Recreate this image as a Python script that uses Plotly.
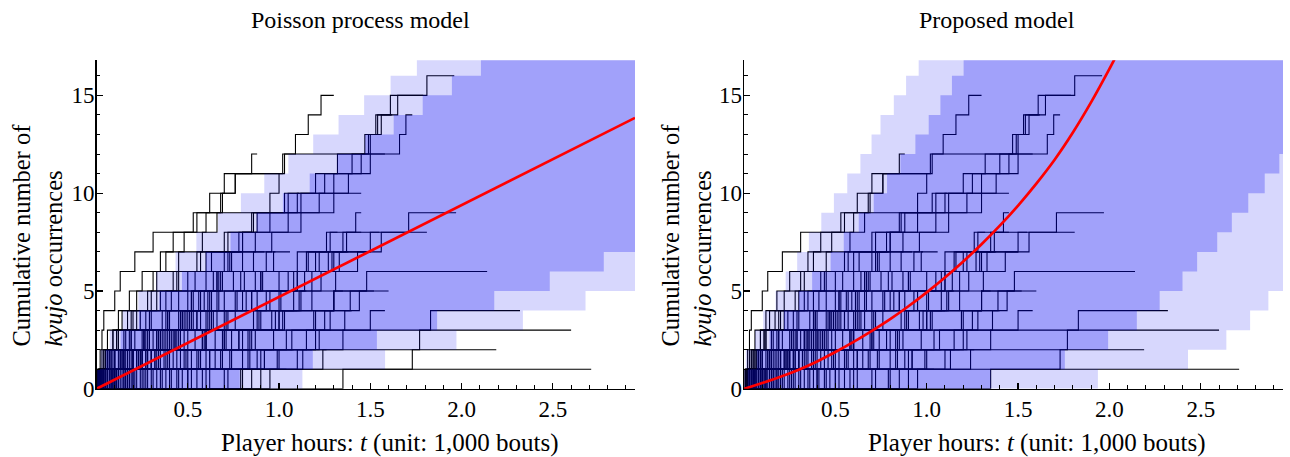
import plotly.graph_objects as go

# ---------------- data ----------------
# each player: times (1,000 bouts) at which the cumulative count rises by one, and the player's total exposure
player_events = [
    # short careers
    [0.01], [0.02], [0.005, 0.03], [0.01, 0.04], [0.02, 0.06, 0.09], [0.015], [0.03, 0.07], [0.04],
    [0.02, 0.05, 0.11], [0.06, 0.14], [0.01, 0.08, 0.12, 0.17], [0.05, 0.16], [0.09], [0.03, 0.1, 0.19],
    [0.07, 0.13, 0.21], [0.12, 0.2], [0.04, 0.15, 0.25], [0.08, 0.18, 0.26, 0.3], [0.11, 0.23],
    [0.02, 0.14, 0.28], [0.17, 0.24, 0.33], [0.06, 0.19, 0.29, 0.36], [0.1, 0.22, 0.38], [0.13, 0.27],
    [0.05, 0.2, 0.31, 0.4, 0.45], [0.16, 0.3, 0.43], [0.09, 0.25, 0.34, 0.47], [0.21, 0.35],
    [0.03, 0.12, 0.26, 0.39, 0.5], [0.18, 0.32, 0.44, 0.53],
    # medium careers
    [0.07, 0.2, 0.36, 0.48, 0.57], [0.11, 0.28, 0.41, 0.55], [0.04, 0.15, 0.33, 0.46, 0.52, 0.6],
    [0.24, 0.39, 0.58], [0.14, 0.3, 0.42, 0.5, 0.61], [0.09, 0.23, 0.37, 0.49, 0.62, 0.66],
    [0.19, 0.34, 0.54, 0.64], [0.06, 0.17, 0.29, 0.45, 0.56, 0.67], [0.27, 0.44, 0.6, 0.7],
    [0.12, 0.25, 0.4, 0.51, 0.63, 0.69, 0.72], [0.31, 0.49, 0.65], [0.08, 0.22, 0.35, 0.47, 0.59, 0.68, 0.74],
    [0.36, 0.52, 0.71], [0.16, 0.32, 0.43, 0.57, 0.66, 0.75], [0.41, 0.62, 0.78],
    [0.05, 0.13, 0.26, 0.38, 0.53, 0.64, 0.73, 0.8], [0.45, 0.69], [0.2, 0.37, 0.5, 0.61, 0.76, 0.81],
    [0.52, 0.74, 0.84], [0.1, 0.24, 0.39, 0.55, 0.67, 0.79, 0.86], [0.58, 0.83],
    [0.28, 0.46, 0.6, 0.72, 0.85, 0.9], [0.62, 0.88], [0.15, 0.33, 0.48, 0.63, 0.77, 0.87, 0.93],
    [0.7, 0.92], [0.35, 0.56, 0.74, 0.89, 0.95], [0.79], [0.22, 0.42, 0.58, 0.71, 0.82, 0.91, 0.97],
    [0.85, 0.99], [0.47, 0.68, 0.87, 1.0],
    # longer careers
    [0.3, 0.55, 0.8, 1.02, 1.12], [0.9, 1.1], [0.25, 0.5, 0.7, 0.88, 1.0, 1.1, 1.15], [0.95, 1.24],
    [0.4, 0.65, 0.83, 0.98, 1.08, 1.18, 1.22], [0.6, 0.92, 1.15, 1.25],
    [0.18, 0.38, 0.59, 0.76, 0.93, 1.05, 1.16, 1.26], [0.5, 0.8, 1.04, 1.2, 1.3],
    [0.33, 0.57, 0.78, 0.96, 1.11, 1.23, 1.33], [0.72, 1.0, 1.22, 1.36],
    [0.26, 0.48, 0.69, 0.86, 1.01, 1.14, 1.27, 1.37, 1.42], [0.44, 0.73, 0.97, 1.19, 1.39],
    [0.55, 0.84, 1.07, 1.28, 1.44], [0.38, 0.62, 0.85, 1.03, 1.18, 1.31, 1.43, 1.5], [0.8, 1.13, 1.35, 1.5],
    # prominent players
    [0.01, 0.02, 0.03, 0.04, 0.10, 0.13, 0.21, 0.31, 0.53, 0.68, 0.76, 1.02, 1.09, 1.16, 1.23],
    [0.02, 0.04, 0.06, 0.12, 0.18, 0.25, 0.35, 0.42, 0.55, 0.62, 0.70, 0.85],
    [0.03, 0.08, 0.15, 0.22, 0.35, 0.45, 0.60, 0.78, 0.95, 1.12, 1.30, 1.45, 1.50, 1.53, 1.61, 1.81],
    [0.02, 0.06, 0.12, 0.20, 0.30, 0.42, 0.55, 0.70, 0.85, 1.05, 1.25, 1.40, 1.49, 1.54, 1.65],
    [0.05, 0.10, 0.18, 0.27, 0.38, 0.50, 0.63, 0.80, 0.88, 0.95, 1.00, 1.03, 1.66, 1.695],
    [0.04, 0.09, 0.16, 0.24, 0.33, 0.44, 0.57, 0.72, 0.86, 1.10, 1.20, 1.32, 1.47, 1.56],
    [0.03, 0.07, 0.11, 0.19, 0.28, 0.33, 0.45, 0.58, 0.66, 1.03],
    [0.02, 0.05, 0.09, 0.14, 0.22, 0.31, 0.38, 0.48, 0.6, 0.69, 0.76],
    [0.1, 0.25, 0.4, 0.6, 0.8, 1.0, 1.2, 1.35, 1.71],
    [0.12, 0.28, 0.45, 0.62, 0.85, 1.1, 1.3, 1.56],
    [0.15, 0.4, 0.7, 1.0, 1.3, 1.48],
    [0.1, 0.3, 0.6, 0.9, 1.3],
    [0.2, 0.6, 1.2, 1.83],
    [0.4, 0.9, 1.77],
    [0.5, 1.73],
    [1.35],
    [0.04, 0.1, 0.19, 0.29, 0.41, 0.54, 0.7, 0.87, 1.05, 1.22, 1.38, 1.5],
    [0.08, 0.2, 0.35, 0.52, 0.7, 0.9, 1.1, 1.28],
    [0.1, 0.27, 0.46, 0.66, 0.88, 1.08, 1.29],
    [0.06, 0.15, 0.27, 0.39, 0.52, 0.66, 0.8, 0.96, 1.12, 1.3],
]
player_ends = [
    0.06, 0.05, 0.08, 0.10, 0.12, 0.13, 0.15, 0.16, 0.18, 0.2, 0.22, 0.24, 0.25, 0.27, 0.3, 0.31, 0.33,
    0.35, 0.37, 0.4, 0.42, 0.44, 0.46, 0.48, 0.5, 0.52, 0.55, 0.56, 0.58, 0.6,
    0.62, 0.63, 0.65, 0.66, 0.68, 0.7, 0.72, 0.73, 0.75, 0.76, 0.77, 0.79, 0.8, 0.82, 0.83, 0.85, 0.86,
    0.88, 0.9, 0.92, 0.93, 0.95, 0.96, 0.98, 1.0, 1.02, 1.04, 1.06, 1.08, 1.1,
    1.15, 1.18, 1.2, 1.26, 1.28, 1.3, 1.32, 1.35, 1.38, 1.4, 1.45, 1.48, 1.52, 1.55, 1.58,
    1.30, 0.88, 1.96, 1.79, 1.73, 1.62, 1.11, 1.0, 1.97, 1.81, 2.14, 1.60, 2.32, 2.60, 2.19, 2.71,
    1.58, 1.45, 1.5, 1.45,
]

# prediction bands: one entry per count level k (band covers y in [k, k+1])
levels = list(range(17))
pois_outer_left = [0.001, 0.022, 0.072, 0.143, 0.229, 0.327, 0.433, 0.547, 0.666, 0.791, 0.919, 1.051,
                   1.187, 1.326, 1.466, 1.611, 1.755]
pois_outer_right = [1.128, 1.581, 1.972, 2.336, 2.679, 3.2, 3.2, 3.2, 3.2, 3.2, 3.2, 3.2, 3.2, 3.2, 3.2,
                    3.2, 3.2]
pois_inner_left = [0.005, 0.051, 0.132, 0.232, 0.345, 0.468, 0.598, 0.734, 0.877, 1.021, 1.168, 1.319,
                   1.472, 1.628, 1.787, 1.947, 2.106]
pois_inner_right = [0.785, 1.185, 1.536, 1.866, 2.179, 2.483, 2.779, 3.2, 3.2, 3.2, 3.2, 3.2, 3.2, 3.2,
                    3.2, 3.2, 3.2]

prop_outer_left = [0.0, 0.01, 0.06, 0.105, 0.173, 0.228, 0.291, 0.355, 0.423, 0.492, 0.565, 0.637, 0.698,
                   0.747, 0.82, 0.887, 0.956]
prop_outer_right = [1.937, 2.43, 2.64, 2.77, 2.87, 3.2, 3.2, 3.2, 3.2, 3.2, 3.2, 3.2, 3.2, 3.2, 3.2,
                    3.2, 3.2]
prop_inner_left = [0.02, 0.07, 0.14, 0.219, 0.30, 0.373, 0.474, 0.546, 0.628, 0.71, 0.783, 0.856, 0.938,
                   1.011, 1.075, 1.138, 1.202]
prop_inner_right = [1.35, 1.756, 1.993, 2.15, 2.275, 2.4, 2.48, 2.59, 2.67, 2.76, 2.85, 2.93, 3.2, 3.2,
                    3.2, 3.2, 3.2]

# expected cumulative counts
pois_mean_t = [0.0, 2.95]
pois_mean_y = [0.0, 13.85]
prop_mean_t = [0.0, 0.1, 0.2, 0.3, 0.4, 0.5, 0.6, 0.7, 0.8, 0.9, 1.0, 1.1, 1.2, 1.3, 1.4, 1.5, 1.6, 1.7,
               1.8, 1.9, 2.0, 2.05]
prop_mean_y = [0.0, 0.30, 0.62, 0.98, 1.40, 1.88, 2.40, 2.96, 3.56, 4.22, 4.93, 5.69, 6.51, 7.39, 8.34,
               9.37, 10.49, 11.71, 13.1, 14.65, 16.35, 17.25]

x_tick_vals = [0.5, 1.0, 1.5, 2.0, 2.5]
x_tick_text = ["0.5", "1.0", "1.5", "2.0", "2.5"]
y_tick_vals = [0, 5, 10, 15]
y_tick_text = ["0", "5", "10", "15"]

X_MAX = 2.95
Y_MAX = 16.8
REF_W, REF_H = 1290, 457
W, H = 1290, 471                 # page is captured at this height and shown at REF_H
SERIF = "Liberation Serif, Times New Roman, serif"


def fx(px):
    return min(1.0, max(0.0, px / REF_W))


def fy(py):
    return min(1.0, max(0.0, 1 - py / REF_H))


def band_polygon(left, right):
    xs, ys = [], []
    for k, v in zip(levels, left):
        xs += [v, v]
        ys += [k, min(k + 1, Y_MAX + 0.5)]
    for k, v in reversed(list(zip(levels, right))):
        xs += [v, v]
        ys += [min(k + 1, Y_MAX + 0.5), k]
    return xs, ys


def step_paths():
    xs, ys = [], []
    for ev, end in zip(player_events, player_ends):
        xs.append(0.0)
        ys.append(0)
        for i, t in enumerate(ev):
            xs.append(t)
            ys.append(i + 1)
        xs.append(end)
        ys.append(len(ev))
        xs.append(None)
        ys.append(None)
    return xs, ys


fig = go.Figure()
sx, sy = step_paths()

panels = [
    ("x", "y", pois_outer_left, pois_outer_right, pois_inner_left, pois_inner_right, pois_mean_t, pois_mean_y),
    ("x2", "y2", prop_outer_left, prop_outer_right, prop_inner_left, prop_inner_right, prop_mean_t, prop_mean_y),
]
for xa, ya, ol, orr, il, ir, mt, my in panels:
    fig.add_trace(go.Scatter(x=sx, y=sy, mode="lines", line=dict(color="black", width=1.1, shape="hv"),
                             xaxis=xa, yaxis=ya, hoverinfo="skip", showlegend=False))
    bx, by = band_polygon(ol, orr)
    fig.add_trace(go.Scatter(x=bx, y=by, mode="lines", fill="toself", fillcolor="rgba(0,0,245,0.155)",
                             line=dict(width=0), xaxis=xa, yaxis=ya, hoverinfo="skip", showlegend=False))
    bx, by = band_polygon(il, ir)
    fig.add_trace(go.Scatter(x=bx, y=by, mode="lines", fill="toself", fillcolor="rgba(0,0,245,0.25)",
                             line=dict(width=0), xaxis=xa, yaxis=ya, hoverinfo="skip", showlegend=False))
    fig.add_trace(go.Scatter(x=mt, y=my, mode="lines", line=dict(color="#ff0000", width=2.7, shape="spline",
                                                                 smoothing=0.6),
                             xaxis=xa, yaxis=ya, hoverinfo="skip", showlegend=False))

ydom = [fy(388), fy(60)]
xaxis_common = dict(range=[0, X_MAX], showgrid=False, zeroline=False, showline=True, linecolor="black",
                    linewidth=1.5, ticks="inside", ticklen=6, tickwidth=1.2, tickcolor="black",
                    tickvals=x_tick_vals, ticktext=x_tick_text, ticklabelstandoff=-1,
                    minor=dict(ticks="inside", dtick=0.1, tick0=0, ticklen=3.5, tickwidth=1, tickcolor="black"),
                    tickfont=dict(family=SERIF, size=23, color="black"))
yaxis_common = dict(range=[0, Y_MAX], showgrid=False, zeroline=False, showline=True, linecolor="black",
                    linewidth=1.5, ticks="inside", ticklen=6, tickwidth=1.2, tickcolor="black",
                    tickvals=y_tick_vals, ticktext=y_tick_text, ticklabelstandoff=-4,
                    minor=dict(ticks="inside", dtick=1, tick0=0, ticklen=3.5, tickwidth=1, tickcolor="black"),
                    tickfont=dict(family=SERIF, size=23, color="black"))

fig.update_layout(
    width=W, height=H, margin=dict(l=0, r=0, t=0, b=0),
    paper_bgcolor="white", plot_bgcolor="white",
    xaxis=dict(domain=[fx(96.5), fx(635)], anchor="y", **xaxis_common),
    yaxis=dict(domain=ydom, anchor="x", **yaxis_common),
    xaxis2=dict(domain=[fx(744), fx(1283)], anchor="y2", **xaxis_common),
    yaxis2=dict(domain=ydom, anchor="x2", **yaxis_common),
    font=dict(family=SERIF, color="black"),
    hovermode=False,
)

annotations = []
for cx, text in [(360, "Poisson process model"), (997, "Proposed model")]:
    annotations.append(dict(x=fx(cx), y=fy(20), xref="paper", yref="paper", text=text, showarrow=False,
                            font=dict(family=SERIF, size=24, color="black"), xanchor="center", yanchor="middle"))
for cx in [390, 1037]:
    annotations.append(dict(x=fx(cx), y=fy(442), xref="paper", yref="paper",
                            text="Player hours: <i>t</i> (unit: 1,000 bouts)", showarrow=False,
                            font=dict(family=SERIF, size=25, color="black"), xanchor="center", yanchor="middle"))
for cx in [38, 687]:
    annotations.append(dict(x=fx(cx), y=fy(235), xref="paper", yref="paper",
                            text="Cumulative number of<br><i>kyujo</i> occurrences", showarrow=False,
                            textangle=-90, align="left",
                            font=dict(family=SERIF, size=24.5, color="black"), xanchor="center", yanchor="middle"))
fig.update_layout(annotations=annotations)

fig.write_html("out.html", config={"displayModeBar": False, "staticPlot": True},
               post_script="document.body.style.margin='0px';")
